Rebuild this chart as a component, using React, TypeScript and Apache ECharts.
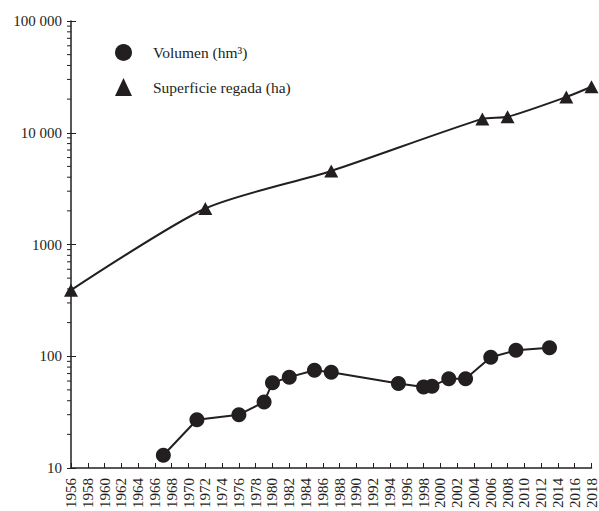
import React, { useEffect, useRef } from "react";
import * as echarts from "echarts";

const volYears = [1967, 1971, 1976, 1979, 1980, 1982, 1985, 1987, 1995, 1998, 1999, 2001, 2003, 2006, 2009, 2013];
const volValues = [13, 27, 30, 39, 58, 65, 75, 72, 57, 53, 54, 63, 63, 98, 113, 119];

const supYears = [1956, 1972, 1987, 2005, 2008, 2015, 2018];
const supValues = [390, 2100, 4550, 13300, 13900, 20900, 25800];

const yTickLabels: Record<number, string> = {
  10: "10",
  100: "100",
  1000: "1000",
  10000: "10 000",
  100000: "100 000",
};

const INK = "#231f20";
const FONT = "Liberation Serif";

export default function App() {
  const ref = useRef<HTMLDivElement>(null);
  useEffect(() => {
    if (!ref.current) return;
    const chart = echarts.init(ref.current, undefined, { renderer: "svg" });
    const minorVals: number[] = [];
    for (let k = 1; k <= 4; k++) {
      for (let m = 2; m <= 9; m++) minorVals.push(m * Math.pow(10, k));
    }
    chart.setOption({
      animation: false,
      backgroundColor: "#ffffff",
      grid: { left: 71, right: 6, top: 21, bottom: 42 },
      legend: {
        orient: "vertical",
        left: 110,
        top: 39,
        itemGap: 17,
        itemWidth: 17,
        itemHeight: 18,
        data: [
          { name: "Volumen (hm³)", icon: "circle" },
          { name: "Superficie regada (ha)", icon: "triangle" },
        ],
        textStyle: { fontFamily: FONT, fontSize: 15.5, color: INK, padding: [0, 0, 0, 16] },
      },
      xAxis: {
        type: "value",
        min: 1956,
        max: 2018,
        interval: 2,
        splitLine: { show: false },
        axisLine: { lineStyle: { color: INK, width: 1.5 } },
        axisTick: { inside: true, length: 5, lineStyle: { color: INK } },
        axisLabel: {
          rotate: 90,
          margin: 10,
          formatter: (v: number) => String(v),
          fontFamily: FONT,
          fontSize: 15,
          color: INK,
        },
      },
      yAxis: [
        {
          type: "log",
          logBase: 10,
          min: 10,
          max: 100000,
          splitLine: { show: false },
          axisLine: { show: true, lineStyle: { color: INK, width: 1.5 } },
          axisTick: { show: true, length: 4, lineStyle: { color: INK } },
          axisLabel: {
            margin: 9,
            formatter: (v: number) => yTickLabels[Math.round(v)] ?? "",
            fontFamily: FONT,
            fontSize: 15,
            color: INK,
          },
        },
        {
          type: "log",
          logBase: 10,
          min: 10,
          max: 100000,
          position: "left",
          splitLine: { show: false },
          axisLine: { show: false },
          axisTick: { show: true, inside: true, length: 5, lineStyle: { color: INK } },
          axisLabel: { show: false },
        },
      ],
      series: [
        {
          name: "Superficie regada (ha)",
          type: "line",
          data: supYears.map((y, i) => [y, supValues[i]]),
          smooth: 0.25,
          symbol: "triangle",
          symbolSize: [14, 13],
          itemStyle: { color: INK },
          lineStyle: { color: INK, width: 2 },
          z: 3,
        },
        {
          name: "Volumen (hm³)",
          type: "line",
          data: volYears.map((y, i) => [y, volValues[i]]),
          symbol: "circle",
          symbolSize: 15,
          itemStyle: { color: INK },
          lineStyle: { color: INK, width: 2 },
          z: 3,
        },
        {
          name: "minor",
          type: "custom",
          clip: false,
          silent: true,
          data: minorVals.map((v) => [1956, v]),
          renderItem: (_params: any, api: any) => {
            const p = api.coord([api.value(0), api.value(1)]);
            return {
              type: "line",
              shape: { x1: p[0] - 4, y1: p[1], x2: p[0], y2: p[1] },
              style: { stroke: INK, lineWidth: 1 },
            };
          },
          z: 2,
        },
      ],
    });
    return () => chart.dispose();
  }, []);
  return <div ref={ref} style={{ width: 599, height: 511, position: "fixed", left: 0, top: 0 }} />;
}
